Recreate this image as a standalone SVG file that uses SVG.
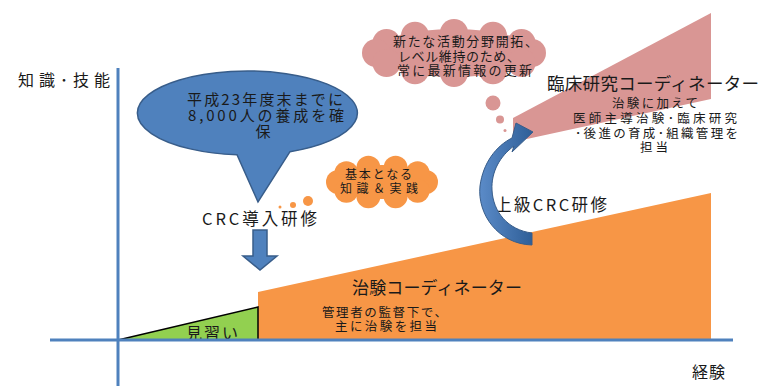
<svg xmlns="http://www.w3.org/2000/svg" width="761" height="390" viewBox="0 0 761 390">
<defs>
<style>
text{font-family:"Noto Sans CJK JP","Noto Sans CJK SC",sans-serif;fill:#1a1a1a}
.c{text-anchor:middle}
.blue{fill:#4F81BD;stroke:#385D8A;stroke-width:1.5}
.pink{fill:#D99694}
.orange{fill:#F79646}
.axis{stroke:#4F81BD;stroke-width:3;fill:none}
</style>
<linearGradient id="ga" x1="0" y1="0" x2="1" y2="0">
<stop offset="0" stop-color="#5B8BC8"/>
<stop offset="1" stop-color="#2E5E97"/>
</linearGradient>
</defs>
<rect width="761" height="390" fill="#ffffff"/>

<g id="stage-clinical-research">
<polygon class="pink" points="513,118 711,13 711,99 513,142"/>
<text x="547" y="89.5" font-size="17.5" textLength="212">臨床研究コーディネーター</text>
<text class="c" font-size="12.5"><tspan x="655" y="107.5" textLength="86">治験に加えて</tspan><tspan x="655" y="122.5" textLength="164">医師主導治験･臨床研究</tspan><tspan x="656.5" y="137.5" textLength="163">･後進の育成･組織管理を</tspan><tspan x="654" y="152" textLength="28">担当</tspan></text>
</g>

<g id="stage-trial-coordinator">
<polygon class="orange" points="258,292 711,193 711,340 258,340"/>
<text class="c" x="437" y="293.5" font-size="17" textLength="170">治験コーディネーター</text>
<text class="c" font-size="12.5"><tspan x="384.5" y="316.5" textLength="125">管理者の監督下で、</tspan><tspan x="386" y="330.5" textLength="102">主に治験を担当</tspan></text>
</g>

<g id="stage-apprentice">
<polygon points="118,340 258,307 258,340" fill="#92D050" stroke="#000" stroke-width="1.5"/>
<text class="c" x="212" y="338.5" font-size="16" textLength="52" fill="#222">見習い</text>
</g>

<g id="callout-goal">
<path class="blue" d="M290,151.7 A110,42 0 1 0 237,154.8 L258,202 Z"/>
<text class="c" font-size="15"><tspan x="265" y="104.5" textLength="156">平成23年度末までに</tspan><tspan x="266" y="120.5" textLength="156">8,000人の養成を確</tspan><tspan x="263" y="136.5">保</tspan></text>
</g>

<g id="cloud-basic">
<g class="orange">
<ellipse cx="382" cy="182" rx="46" ry="17"/>
<circle cx="426" cy="182" r="12"/>
<circle cx="417.6" cy="173.2" r="12"/>
<circle cx="395.6" cy="167.7" r="12"/>
<circle cx="368.4" cy="167.7" r="12"/>
<circle cx="346.4" cy="173.2" r="12"/>
<circle cx="338" cy="182" r="12"/>
<circle cx="346.4" cy="190.8" r="12"/>
<circle cx="368.4" cy="196.3" r="12"/>
<circle cx="395.6" cy="196.3" r="12"/>
<circle cx="417.6" cy="190.8" r="12"/>
<circle cx="308" cy="201" r="5"/>
<circle cx="293" cy="205" r="3"/>
<circle cx="280" cy="207" r="1.5"/>
</g>
<text class="c" font-size="12"><tspan x="378.5" y="178.5" textLength="67">基本となる</tspan><tspan x="379" y="192.5" textLength="78">知識＆実践</tspan></text>
</g>

<g id="cloud-update">
<g class="pink">
<ellipse cx="454" cy="53" rx="80" ry="24"/>
<circle cx="532" cy="53" r="14"/>
<circle cx="521.5" cy="43" r="14"/>
<circle cx="493" cy="35.7" r="14"/>
<circle cx="454" cy="33" r="14"/>
<circle cx="415" cy="35.7" r="14"/>
<circle cx="386.5" cy="43" r="14"/>
<circle cx="376" cy="53" r="14"/>
<circle cx="386.5" cy="63" r="14"/>
<circle cx="415" cy="70.3" r="14"/>
<circle cx="454" cy="73" r="14"/>
<circle cx="493" cy="70.3" r="14"/>
<circle cx="521.5" cy="63" r="14"/>
<circle cx="493" cy="103" r="7.5"/>
<circle cx="500" cy="119.5" r="4"/>
<circle cx="505" cy="130.5" r="1.5"/>
</g>
<text class="c" font-size="13"><tspan x="465.5" y="46" textLength="145">新たな活動分野開拓、</tspan><tspan x="459" y="60.5" textLength="122">レベル維持のため、</tspan><tspan x="464.5" y="75" textLength="135">常に最新情報の更新</tspan></text>
</g>

<g id="label-intro">
<text class="c" x="259.5" y="225" font-size="16.5" textLength="115">CRC導入研修</text>
</g>
<g id="label-advanced">
<text class="c" x="551" y="211" font-size="16.5" textLength="112">上級CRC研修</text>
</g>

<g id="connectors">
<path class="blue" d="M253,230 H267 V256 H277 L260,270 L243,256 H253 Z"/>
<path d="M532,245 C498,244 477,214 480,186 C483,163 496,146 512,138 L516,123 L533,132 L512,152 L514,146 C500,156 491,172 492,190 C493,212 508,230 532,233 Z" fill="url(#ga)" stroke="#385D8A" stroke-width="1"/>
<line class="axis" x1="118" y1="68" x2="118" y2="386"/>
<line class="axis" x1="50" y1="340" x2="733" y2="340"/>
</g>

<g id="axis-labels">
<text x="18" y="86" font-size="16" textLength="92">知識･技能</text>
<text x="692" y="378" font-size="16" textLength="33">経験</text>
</g>
</svg>
